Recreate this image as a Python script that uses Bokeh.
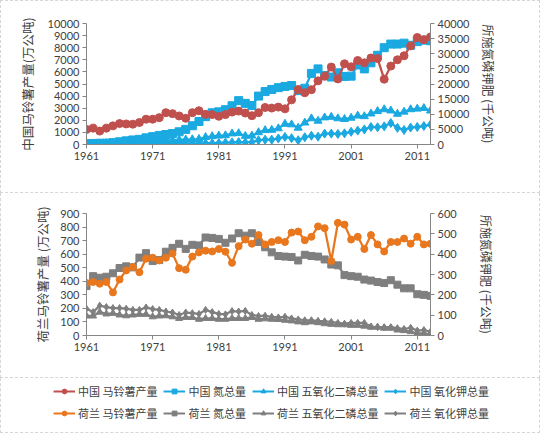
from bokeh.plotting import figure
from bokeh.models import Range1d, LinearAxis, FixedTicker, Legend, LegendItem
from bokeh.layouts import column
from bokeh.embed import file_html
from bokeh.resources import INLINE

years = list(range(1961, 2014))
year_ticks = [1961, 1971, 1981, 1991, 2001, 2011]

# China: potato production (万公吨, left axis), fertilizer (千公吨, right axis)
cn_potato = [1250, 1350, 1110, 1350, 1540, 1730, 1700, 1680, 1820, 2090,
             2090, 2220, 2630, 2550, 2360, 2170, 2630, 2790, 2490, 2470,
             2330, 2470, 2680, 2760, 2600, 2380, 2630, 3060, 3010, 3090,
             2950, 3690, 4550, 4280, 4530, 5260, 5640, 6400, 5420, 6670,
             6420, 6940, 6750, 7150, 7100, 5400, 6480, 7000, 7330, 8150,
             8840, 8660, 8890]
cn_n = [300, 350, 400, 450, 600, 900, 1200, 1500, 1700, 2200,
        2600, 3000, 3300, 3600, 4200, 5000, 6200, 7600, 9200, 10500,
        10800, 11500, 12800, 14500, 13600, 12900, 16000, 17500, 18200, 18800,
        19200, 19500, 17800, 18600, 23500, 25000, 22800, 22300, 23700, 22500,
        22600, 26300, 25000, 27000, 29500, 32000, 33200, 33200, 33500, 32800,
        34000, 34500, 34300]
cn_p = [250, 300, 350, 400, 500, 600, 650, 700, 800, 900,
        1000, 1150, 1400, 1400, 1500, 1600, 1700, 1800, 2400, 2700,
        2900, 3000, 3600, 3700, 2800, 2900, 4000, 4700, 4800, 5300,
        6800, 6600, 5500, 7200, 8600, 7800, 8900, 9100, 8600, 8400,
        8800, 9500, 9300, 10200, 11000, 11600, 11200, 10100, 10800, 11600,
        11800, 12000, 11200]
cn_k = [50, 60, 70, 80, 90, 100, 110, 120, 130, 150,
        170, 200, 220, 250, 280, 300, 320, 350, 400, 450,
        500, 600, 700, 800, 700, 750, 1400, 1600, 1600, 2000,
        2500, 2100, 1400, 2400, 2900, 2600, 3600, 3600, 3500, 3700,
        4200, 4600, 5000, 5800, 5700, 6000, 7100, 5500, 4800, 5600,
        5800, 6100, 6600]

# Netherlands: potato production (万公吨, left axis), fertilizer (千公吨, right axis)
nl_potato = [387, 395, 382, 395, 318, 413, 480, 505, 467, 567,
             574, 554, 574, 605, 497, 485, 582, 613, 626, 620,
             638, 618, 536, 659, 708, 677, 741, 672, 690, 703,
             690, 759, 767, 703, 728, 805, 792, 549, 831, 818,
             708, 728, 638, 741, 672, 620, 690, 690, 715, 677,
             728, 672, 677]
nl_n = [243, 292, 284, 289, 306, 332, 340, 335, 383, 405,
        366, 371, 412, 431, 451, 426, 446, 443, 482, 480,
        475, 456, 477, 503, 491, 503, 460, 434, 409, 391,
        388, 386, 369, 397, 391, 388, 374, 349, 345, 297,
        292, 289, 275, 270, 263, 258, 272, 250, 232, 232,
        203, 200, 195]
nl_p = [96, 96, 115, 106, 109, 101, 97, 101, 104, 104,
        92, 96, 97, 92, 84, 89, 89, 80, 84, 84,
        80, 80, 84, 84, 84, 89, 80, 82, 80, 79,
        75, 72, 67, 63, 67, 63, 58, 55, 53, 53,
        50, 50, 46, 41, 41, 36, 36, 27, 24, 19,
        10, 10, 7]
nl_k = [132, 115, 147, 140, 135, 135, 132, 126, 126, 138,
        130, 126, 118, 113, 101, 113, 110, 106, 126, 115,
        106, 104, 120, 118, 121, 101, 96, 97, 92, 89,
        92, 84, 79, 75, 75, 72, 70, 67, 62, 58,
        62, 62, 62, 44, 41, 41, 41, 36, 32, 38,
        24, 27, 19]

legend_labels = ["中国 马铃薯产量", "中国 氮总量", "中国 五氧化二磷总量", "中国 氧化钾总量",
                 "荷兰 马铃薯产量", "荷兰 氮总量", "荷兰 五氧化二磷总量", "荷兰 氧化钾总量"]

RED = "#C0504D"
BLUE = "#1AA9E1"
ORANGE = "#E8771E"
GRAY = "#7F7F7F"
AXIS = "#868686"
TXT = "#404040"
BORDER = "1px dashed #d6d6d6"
CJK = "Noto Sans CJK SC"
NUM = "Lato"
W = 540


def style_axis(ax, title, standoff, size="12px"):
    ax.axis_label = title
    ax.axis_label_text_font = CJK
    ax.axis_label_text_font_size = size
    ax.axis_label_text_font_style = "normal"
    ax.axis_label_text_color = TXT
    ax.axis_label_standoff = standoff
    ax.major_label_text_font = NUM
    ax.major_label_text_font_size = "11px"
    ax.major_label_text_color = TXT
    ax.major_label_standoff = 3
    ax.axis_line_color = AXIS
    ax.major_tick_line_color = AXIS
    ax.major_tick_out = 4
    ax.major_tick_in = 0
    ax.minor_tick_line_color = None


def make_chart(height, top, bottom, lmax, lstep, rmax, rstep,
               ltitle, rtitle, lstand, rstand, styles):
    p = figure(width=W, height=height, output_backend="svg", toolbar_location=None,
               x_range=Range1d(1961, 2013), y_range=Range1d(0, lmax),
               min_border_left=85, min_border_right=111,
               min_border_top=top, min_border_bottom=bottom)
    p.styles = styles
    p.extra_y_ranges = {"r": Range1d(0, rmax)}
    rax = LinearAxis(y_range_name="r")
    p.add_layout(rax, "right")
    p.xgrid.grid_line_color = None
    p.ygrid.grid_line_color = None
    p.outline_line_color = None
    p.xaxis.ticker = FixedTicker(ticks=year_ticks)
    p.yaxis[0].ticker = FixedTicker(ticks=list(range(0, lmax + 1, lstep)))
    rax.ticker = FixedTicker(ticks=list(range(0, rmax + 1, rstep)))
    style_axis(p.xaxis[0], "", 0)
    p.xaxis.axis_label = None
    style_axis(p.yaxis[0], ltitle, lstand, "12.5px")
    style_axis(rax, rtitle, rstand, "12px")
    return p


def series(p, ys, color, marker, size, yr="default"):
    p.line(years, ys, line_color=color, line_width=2.25, y_range_name=yr)
    p.scatter(years, ys, marker=marker, size=size, fill_color=color,
              line_color=color, y_range_name=yr)


top = make_chart(193, 22, 50, 10000, 1000, 40000, 5000,
                 "中国马铃薯产量(万公吨)", "所施氮磷钾肥 (千公吨)", 8, 8,
                 {"border": BORDER, "box-sizing": "border-box"})
series(top, cn_k, BLUE, "diamond", 9, "r")
series(top, cn_p, BLUE, "triangle", 8, "r")
series(top, cn_n, BLUE, "square", 8, "r")
series(top, cn_potato, RED, "circle", 8)

bot = make_chart(185, 20, 43, 900, 100, 600, 100,
                 "荷兰马铃薯产量 (万公吨)", "所施氮磷钾肥 (千公吨)", 5, 18,
                 {"border-left": BORDER, "border-right": BORDER,
                  "border-bottom": BORDER, "box-sizing": "border-box"})
series(bot, nl_p, GRAY, "triangle", 7, "r")
series(bot, nl_k, GRAY, "diamond", 7, "r")
series(bot, nl_n, GRAY, "square", 7, "r")
series(bot, nl_potato, ORANGE, "circle", 7)

# legend panel: the series are drawn here outside the visible range, only their legend glyphs show
leg = figure(width=W, height=55, output_backend="svg", toolbar_location=None,
             x_range=Range1d(0, 1), y_range=Range1d(0, 1),
             min_border=0, min_border_left=0, min_border_right=0,
             min_border_top=0, min_border_bottom=0)
leg.frame_align = False
leg.styles = {"border-left": BORDER, "border-right": BORDER,
              "border-bottom": BORDER, "box-sizing": "border-box"}
leg.axis.visible = False
leg.xgrid.grid_line_color = None
leg.ygrid.grid_line_color = None
leg.outline_line_color = None

all_series = [cn_potato, cn_n, cn_p, cn_k, nl_potato, nl_n, nl_p, nl_k]
specs = [(RED, "circle"), (BLUE, "square"), (BLUE, "triangle"), (BLUE, "diamond"),
         (ORANGE, "circle"), (GRAY, "square"), (GRAY, "triangle"), (GRAY, "diamond")]
items = []
for label, ys, (color, marker) in zip(legend_labels, all_series, specs):
    lr = leg.line(years, ys, line_color=color, line_width=2)
    sr = leg.scatter(years, ys, marker=marker, size=5, fill_color=color, line_color=color)
    items.append(LegendItem(label=label, renderers=[lr, sr]))

legend = Legend(items=items, orientation="horizontal", ncols=4, location="top_center",
                label_text_font=CJK, label_text_font_size="11px", label_text_color=TXT,
                glyph_width=22, glyph_height=12, label_standoff=3, spacing=6,
                padding=0, margin=5, border_line_color=None, background_fill_alpha=0,
                label_height=14)
leg.add_layout(legend, "center")

layout = column(top, bot, leg, spacing=0)
open("out.html", "w").write(file_html(layout, INLINE))
